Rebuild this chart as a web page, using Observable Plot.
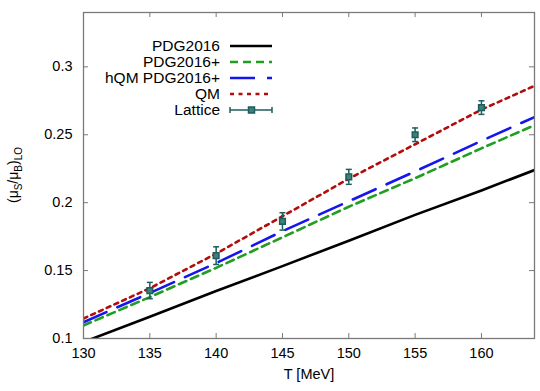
<!DOCTYPE html>
<html><head><meta charset="utf-8">
<script src="https://cdn.jsdelivr.net/npm/d3@7"></script>
<script src="https://cdn.jsdelivr.net/npm/@observablehq/plot@0.6"></script>
<style>body{margin:0;background:#fff}</style>
</head><body><div id="chart"></div>
<script>
// ---- data ----
const temps = [130, 135, 140, 145, 150, 155, 160, 164];
const pdg2016     = [0.0974, 0.116, 0.135, 0.1533, 0.172, 0.191, 0.209, 0.224];
const pdg2016plus = [0.1096, 0.1305, 0.152, 0.1745, 0.197, 0.218, 0.240, 0.257];
const hqmPdg      = [0.112, 0.1335, 0.1555, 0.179, 0.201, 0.223, 0.2455, 0.263];
const qm          = [0.1147, 0.137, 0.1625, 0.190, 0.2176, 0.243, 0.2685, 0.286];
const latticeT    = [135, 140, 145, 150, 155, 160];
const latticeV    = [0.1353, 0.161, 0.1862, 0.219, 0.250, 0.270];
const latticeErr  = [0.006, 0.0065, 0.0064, 0.0055, 0.005, 0.005];
const seriesNames = ["PDG2016", "PDG2016+", "hQM PDG2016+", "QM"];
const seriesValues = [pdg2016, pdg2016plus, hqmPdg, qm];
const xTicks = [130, 135, 140, 145, 150, 155, 160];
const yTicks = [0.1, 0.15, 0.2, 0.25, 0.3];
const yTickLabels = ["0.1", "0.15", "0.2", "0.25", "0.3"];

// ---- styles ----
const styles = {
  "PDG2016": {stroke: "#000000", dash: null},
  "PDG2016+": {stroke: "#1f9e1f", dash: "8,5"},
  "hQM PDG2016+": {stroke: "#1515f0", dash: "25,12"},
  "QM": {stroke: "#b30c0c", dash: "4,4.5"}
};
const teal = "#1c5e5c";
const axisColor = "#7a7a7a";
const W = 540, H = 391, mL = 83, mR = 6, mT = 12, mB = 53;
const fw = W - mL - mR, fh = H - mT - mB;
const font = "'Liberation Sans', Arial, Helvetica, sans-serif";

const lattice = latticeT.map((t, i) => ({T: t, v: latticeV[i], lo: latticeV[i] - latticeErr[i], hi: latticeV[i] + latticeErr[i]}));

const capSymbol = {draw(ctx, size) { const w = 3; ctx.moveTo(-w, 0); ctx.lineTo(w, 0); }};

const lineMarks = seriesNames.map((name, k) => Plot.line(temps.map((t, i) => ({T: t, v: seriesValues[k][i]})), {
  x: "T", y: "v", stroke: styles[name].stroke, strokeWidth: 2.6,
  strokeDasharray: styles[name].dash, clip: true
}));

const chart = Plot.plot({
  width: W, height: H,
  marginLeft: mL, marginRight: mR, marginTop: mT, marginBottom: mB,
  style: {fontFamily: font, fontSize: "14.5px", color: "#000", background: "#fff"},
  x: {domain: [130, 164], axis: null},
  y: {domain: [0.1, 0.34], axis: null},
  marks: [
    ...lineMarks,
    Plot.ruleX(lattice, {x: "T", y1: "lo", y2: "hi", stroke: teal, strokeWidth: 1.5}),
    Plot.dot(lattice, {x: "T", y: "lo", symbol: capSymbol, r: 3, stroke: teal, strokeWidth: 1.5}),
    Plot.dot(lattice, {x: "T", y: "hi", symbol: capSymbol, r: 3, stroke: teal, strokeWidth: 1.5}),
    Plot.dot(lattice, {x: "T", y: "v", symbol: "square", r: 3.2, fill: "#3f7f7c", stroke: teal, strokeWidth: 1.5}),
    Plot.gridX(xTicks, {stroke: axisColor, strokeOpacity: 1, insetTop: fh - 5}),
    Plot.gridX(xTicks, {stroke: axisColor, strokeOpacity: 1, insetBottom: fh - 5}),
    Plot.gridY(yTicks, {stroke: axisColor, strokeOpacity: 1, insetRight: fw - 5}),
    Plot.gridY(yTicks, {stroke: axisColor, strokeOpacity: 1, insetLeft: fw - 5}),
    Plot.frame({stroke: axisColor, strokeWidth: 1.3}),
    Plot.axisX(xTicks, {anchor: "bottom", tickSize: 0, tickPadding: 9, label: null, fontSize: 14.5, fill: "#000"}),
    Plot.axisY(yTicks, {anchor: "left", tickSize: 0, tickPadding: 11, label: null, fontSize: 14.5, fill: "#000",
      tickFormat: d => yTickLabels[yTicks.indexOf(d)]}),
    Plot.text(["T [MeV]"], {frameAnchor: "bottom", dy: 40, fontSize: 14.5, fill: "#000"})
  ]
});
document.getElementById("chart").appendChild(chart);

// ---- y label with subscripts ----
const svg = d3.select(chart);
const yl = svg.append("text")
  .attr("transform", `translate(18,${mT + fh / 2}) rotate(-90)`)
  .attr("text-anchor", "middle")
  .attr("font-family", font).attr("font-size", 14).attr("fill", "#000");
yl.append("tspan").text("(μ");
yl.append("tspan").attr("font-size", 10).attr("dy", 4).text("S");
yl.append("tspan").attr("dy", -4).text("/μ");
yl.append("tspan").attr("font-size", 10).attr("dy", 4).text("B");
yl.append("tspan").attr("dy", -4).text(")");
yl.append("tspan").attr("font-size", 10).attr("dy", 4).text("LO");

// ---- legend ----
const leg = svg.append("g").attr("font-family", font).attr("font-size", 15.5);
const rowY = i => 46 + i * 16;
const legendNames = [...seriesNames, "Lattice"];
legendNames.forEach((name, i) => {
  const y = rowY(i);
  leg.append("text").attr("x", 220).attr("y", y).attr("dy", "0.35em").attr("text-anchor", "end").attr("fill", "#000").text(name);
  if (styles[name]) {
    leg.append("line").attr("x1", 230).attr("x2", 272).attr("y1", y).attr("y2", y)
      .attr("stroke", styles[name].stroke).attr("stroke-width", 2.6)
      .attr("stroke-dasharray", styles[name].dash);
  } else {
    leg.append("line").attr("x1", 230).attr("x2", 272).attr("y1", y).attr("y2", y).attr("stroke", teal).attr("stroke-width", 1.5);
    [230, 272].forEach(x => leg.append("line").attr("x1", x).attr("x2", x).attr("y1", y - 3).attr("y2", y + 3).attr("stroke", teal).attr("stroke-width", 1.5));
    leg.append("rect").attr("x", 251.5 - 3).attr("y", y - 3).attr("width", 6).attr("height", 6).attr("fill", "#3f7f7c").attr("stroke", teal).attr("stroke-width", 1.5);
  }
});
</script></body></html>
